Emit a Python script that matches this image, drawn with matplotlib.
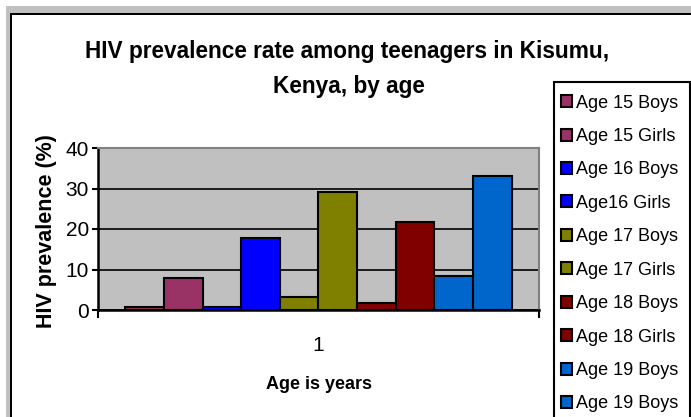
import matplotlib
matplotlib.use("Agg")
import matplotlib.pyplot as plt
from matplotlib.patches import Rectangle, Patch

FONT = 'Liberation Sans'

# ---- data ----
series_labels = ['Age 15 Boys', 'Age 15 Girls', 'Age 16 Boys', 'Age16 Girls',
                 'Age 17 Boys', 'Age 17 Girls', 'Age 18 Boys', 'Age 18 Girls',
                 'Age 19 Boys', 'Age 19 Boys']
values = [0.8, 8.0, 0.8, 17.7, 3.3, 29.2, 1.8, 21.8, 8.5, 33.2]
colors = ['#993366', '#993366', '#0000FF', '#0000FF', '#808000', '#808000',
          '#800000', '#800000', '#0066CC', '#0066CC']
category = 1
yticks = [0, 10, 20, 30, 40]
title_line1 = 'HIV prevalence rate among teenagers in Kisumu,'
title_line2 = 'Kenya, by age'
xlabel = 'Age is years'
ylabel = 'HIV prevalence (%)'

W, H = 691, 417
fig = plt.figure(figsize=(W / 100, H / 100), dpi=100)
fig.patch.set_facecolor('white')

def fx(px):
    return px / W

def fy(py):
    return 1 - py / H

# outer frame (grey band + black line)
fig.patches.append(Rectangle((fx(6), fy(13)), fx(W) - fx(6), fy(6) - fy(13),
                             transform=fig.transFigure, facecolor='#C0C0C0', edgecolor='none'))
fig.patches.append(Rectangle((fx(6), 0), fx(10) - fx(6), fy(6),
                             transform=fig.transFigure, facecolor='#C0C0C0', edgecolor='none'))
fig.patches.append(Rectangle((fx(10), fy(15)), fx(W) - fx(10), fy(13) - fy(15),
                             transform=fig.transFigure, facecolor='black', edgecolor='none'))
fig.patches.append(Rectangle((fx(10), 0), fx(12) - fx(10), fy(13),
                             transform=fig.transFigure, facecolor='black', edgecolor='none'))

ax = fig.add_axes([fx(98), fy(310), fx(539) - fx(98), fy(148) - fy(310)])
ax.set_facecolor('#C0C0C0')

n = len(values)
group = 386 / 441
w = group / n
for i, (v, c, lab) in enumerate(zip(values, colors, series_labels)):
    ax.bar(category + (i - (n - 1) / 2) * w, v, width=w, color=c,
           edgecolor='black', linewidth=1.5, label=lab, zorder=3)

ax.set_xlim(category - 0.5, category + 0.5)
ax.set_ylim(0, 40)
ax.set_yticks(yticks)
ax.set_yticklabels([str(t) for t in yticks], fontfamily=FONT, fontsize=15)
ax.tick_params(axis='y', direction='out', length=4.5, width=1.5, pad=2, colors='black')
ax.set_axisbelow(True)
ax.yaxis.grid(True, color='black', linewidth=1.2)

ax.set_xticks([category - 0.5, category + 0.5])
ax.set_xticklabels(['', ''])
ax.set_xticks([category], minor=True)
ax.set_xticklabels(['1'], minor=True, fontfamily=FONT, fontsize=15)
ax.tick_params(axis='x', which='major', direction='out', length=6, width=1.5)
ax.tick_params(axis='x', which='minor', length=0, pad=19)

for s in ['top', 'right']:
    ax.spines[s].set_color('#808080')
    ax.spines[s].set_linewidth(1.5)
for s in ['left', 'bottom']:
    ax.spines[s].set_color('black')
    ax.spines[s].set_linewidth(1.8)

ax.set_xlabel(xlabel, fontfamily=FONT, fontweight='bold', fontsize=13)
ax.xaxis.label.set_va('baseline')
ax.xaxis.set_label_coords(0.5, (310 - 389) / 162)
ax.set_ylabel(ylabel, fontfamily=FONT, fontweight='bold', fontsize=15.5)
ax.yaxis.label.set_va('baseline')
ax.yaxis.set_label_coords((52 - 98) / 441, (310 - 231) / 162)

fig.text(fx(347), fy(58), title_line1, ha='center', va='baseline',
         fontfamily=FONT, fontweight='bold', fontsize=16.3)
fig.text(fx(349), fy(93.5), title_line2, ha='center', va='baseline',
         fontfamily=FONT, fontweight='bold', fontsize=16.3)

# legend frame
fig.patches.append(Rectangle((fx(554), -0.1), fx(690) - fx(554), fy(82) + 0.1,
                             transform=fig.transFigure, fill=False, edgecolor='black',
                             linewidth=1.5))
handles = [Patch(facecolor=c, edgecolor='black', linewidth=1.5) for c in colors]
fig.legend(handles, series_labels, loc='upper left',
           bbox_to_anchor=(fx(560.5), fy(94.5)), bbox_transform=fig.transFigure,
           frameon=False, borderpad=0, borderaxespad=0,
           prop={'family': FONT, 'size': 13},
           handlelength=0.64, handleheight=0.64, handletextpad=0.24,
           labelspacing=0.91)

fig.savefig('out.png', dpi=100, facecolor='white')
